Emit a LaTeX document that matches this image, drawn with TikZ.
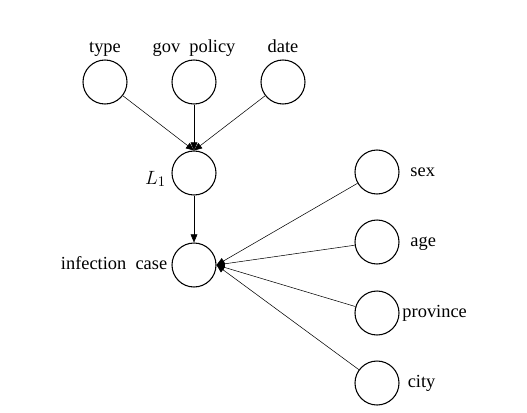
\documentclass[tikz,border=0pt]{standalone}
\usepackage{fontspec}
\setmainfont{Liberation Serif}
\usetikzlibrary{arrows.meta,positioning}

\begin{document}
\begin{tikzpicture}[x=0.75pt,y=-0.75pt,>={Triangle[length=6pt,width=5pt]},node distance=2pt,
  var/.style={draw,circle,line width=0.8pt,minimum size=33pt,inner sep=0pt},
  lab/.style={font=\fontsize{13.8}{16}\selectfont,inner sep=1pt,text height=9.5pt,text depth=3pt},
  edge/.style={->,line width=0.4pt}]
\useasboundingbox (0,0) rectangle (527,412);
% parents of the latent node
\node[var] (ty) at (105,82) {};
\node[var] (gov) at (194,82) {};
\node[var] (dt) at (283,82) {};
\node[var] (lat) at (194,173) {};
\node[var] (inf) at (194,265) {};
% patient attributes
\node[var] (sx) at (377,172) {};
\node[var] (ag) at (377,242) {};
\node[var] (pr) at (377,313) {};
\node[var] (ct) at (377,383) {};
% labels
\node[lab,above=1pt of ty] {type};
\node[lab,above=1pt of gov] {gov\ \ policy};
\node[lab,above=1pt of dt] {date};
\node[lab,left=3pt of lat,yshift=-5pt,font=\fontsize{15}{17}\selectfont] {$L_1$};
\node[lab,left=2pt of inf] {infection\ \ case};
\node[lab,right=7pt of sx] {sex};
\node[lab,right=7pt of ag] {age};
\node[lab,right=1pt of pr] {province};
\node[lab,right=5pt of ct] {city};
% edges
\draw[edge] (ty) -- (lat.north);
\draw[edge] (gov) -- (lat.north);
\draw[edge] (dt) -- (lat.north);
\draw[edge] (lat) -- (inf);
\foreach \v in {sx,ag,pr,ct} \draw[edge] (\v) -- (inf.east);
\end{tikzpicture}
\end{document}
